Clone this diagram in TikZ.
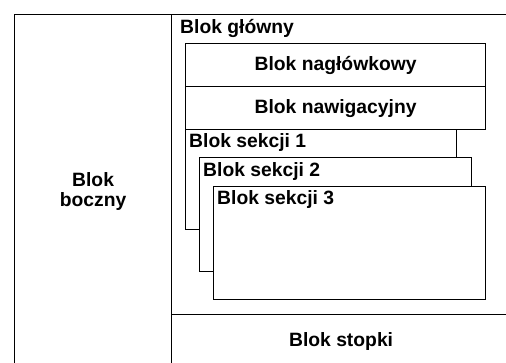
\documentclass[tikz,border=0pt]{standalone}
\usepackage{fontspec}
\setmainfont{Liberation Sans}
\newcommand{\blokfont}{\fontsize{19.3}{20}\selectfont\bfseries}
\tikzset{
  blok/.style={draw, line width=1.2pt, fill=white, anchor=north west,
    inner sep=0pt, font=\blokfont, align=center},
  etykieta/.style={anchor=west, inner sep=0pt, font=\blokfont}
}
\begin{document}
\begin{tikzpicture}[x=1pt,y=-1pt]
    \useasboundingbox (0,0) rectangle (506,363);
    \clip (0,0) rectangle (506,363);
    % Blok boczny (lewa kolumna)
    \node[blok, minimum width=157pt, minimum height=354pt] (boczny) at (14,14) {Blok\\boczny};
    % Blok glowny i stopka
    \node[blok, minimum width=339pt, minimum height=300pt] (glowny) at (171,14) {};
    \node[etykieta] (glownytxt) at (180,28.5) {Blok główny};
    \node[blok, minimum width=339pt, minimum height=54pt] (stopka) at (171,314) {Blok stopki};
    % Naglowek i nawigacja
    \node[blok, minimum width=300pt, minimum height=43pt] (naglowek) at (185,43) {Blok nagłówkowy};
    \node[blok, minimum width=300pt, minimum height=43pt] (nawigacja) at (185,86) {Blok nawigacyjny};
    % Sekcje (jedna na drugiej)
    \node[blok, minimum width=271pt, minimum height=100pt] (sekcja1) at (185,129) {};
    \node[etykieta] (sekcja1txt) at (189,143) {Blok sekcji 1};
    \node[blok, minimum width=272pt, minimum height=114pt] (sekcja2) at (199,157) {};
    \node[etykieta] (sekcja2txt) at (203,172) {Blok sekcji 2};
    \node[blok, minimum width=272pt, minimum height=113pt] (sekcja3) at (213,186) {};
    \node[etykieta] (sekcja3txt) at (217,200) {Blok sekcji 3};
\end{tikzpicture}
\end{document}
